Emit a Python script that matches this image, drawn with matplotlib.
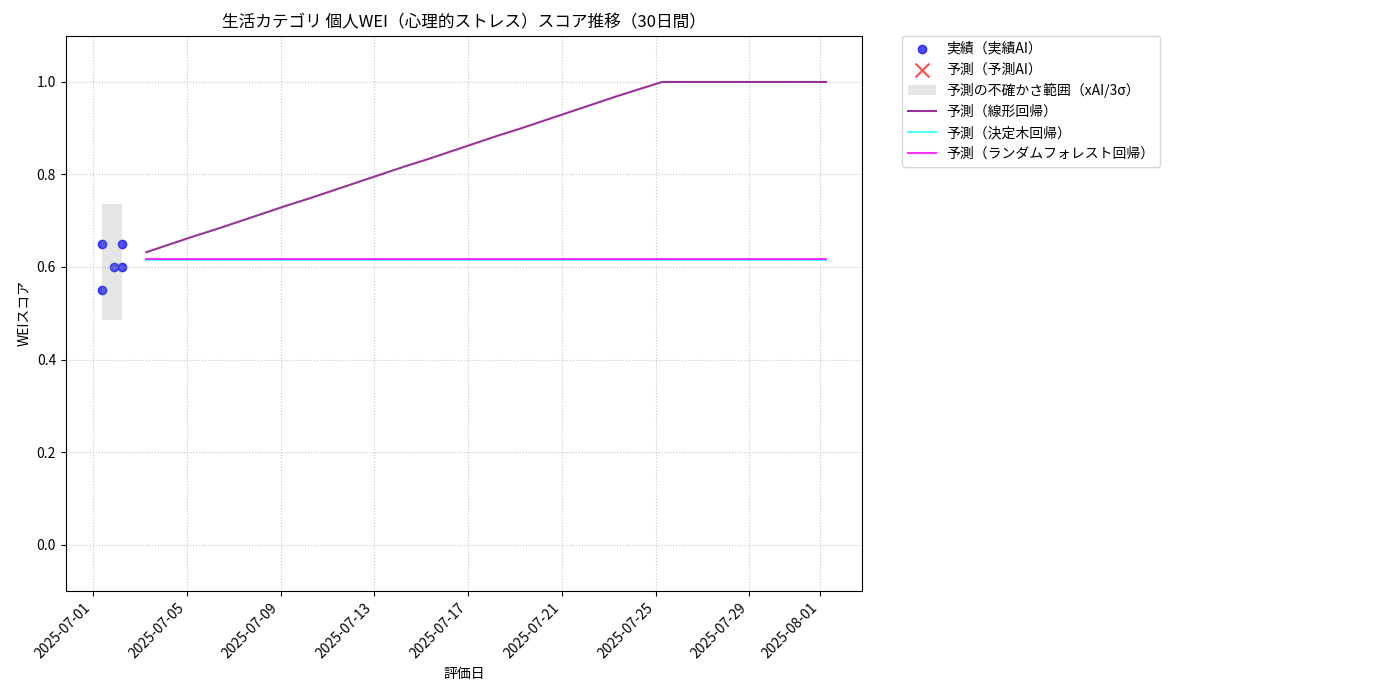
import numpy as np
import pandas as pd

import matplotlib
matplotlib.use("Agg")
import matplotlib.pyplot as plt

plt.rcParams["font.family"] = ["Noto Sans CJK JP", "DejaVu Sans"]

# ------------------------------------------------------------------ #
#  Data
# ------------------------------------------------------------------ #

actual_dates = pd.to_datetime([
    "2025-07-01 09:15", "2025-07-01 09:15", "2025-07-01 21:30",
    "2025-07-02 05:40", "2025-07-02 05:40",
])
actual_scores = [0.55, 0.65, 0.60, 0.65, 0.60]

pred_start = "2025-07-03 06:40"
pred_days = 30

linear_pred = [
    0.632, 0.649, 0.666, 0.682, 0.699, 0.716, 0.733, 0.749, 0.766, 0.783,
    0.800, 0.817, 0.833, 0.850, 0.867, 0.884, 0.900, 0.917, 0.934, 0.951,
    0.968, 0.984, 1.000, 1.000, 1.000, 1.000, 1.000, 1.000, 1.000, 1.000,
]
tree_pred = [0.615] * pred_days
forest_pred = [0.618] * pred_days

title = "生活カテゴリ 個人WEI（心理的ストレス）スコア推移（30日間）"


# ------------------------------------------------------------------ #
#  Plot
# ------------------------------------------------------------------ #

pred_dates = pd.date_range(pred_start, periods=pred_days, freq="D")

mean = np.mean(actual_scores)
sigma = np.std(actual_scores, ddof=1)

fig, ax = plt.subplots(figsize=(14, 7), dpi=100)

h_act = ax.scatter(actual_dates, actual_scores, color="blue", alpha=0.7,
                   label="実績（実績AI）")
h_pred = ax.scatter([], [], color="red", marker="x", s=100, alpha=0.7,
                    label="予測（予測AI）")
h_band = ax.fill_between([actual_dates[0], actual_dates[-1]],
                         mean - 3 * sigma, mean + 3 * sigma,
                         color="gray", alpha=0.2, linewidth=0,
                         label="予測の不確かさ範囲（xAI/3σ）")
(h_lin,) = ax.plot(pred_dates, linear_pred, color="purple", alpha=0.8,
                   label="予測（線形回帰）")
(h_tree,) = ax.plot(pred_dates, tree_pred, color="cyan", alpha=0.7,
                    label="予測（決定木回帰）")
(h_rf,) = ax.plot(pred_dates, forest_pred, color="magenta", alpha=0.8,
                  label="予測（ランダムフォレスト回帰）")

ax.set_ylim(-0.1, 1.1)
ax.set_title(title, fontsize=12)
ax.set_xlabel("評価日")
ax.set_ylabel("WEIスコア")
ax.grid(True, linestyle=":", alpha=0.7)
plt.setp(ax.get_xticklabels(), rotation=45, ha="right")

ax.legend(handles=[h_act, h_pred, h_band, h_lin, h_tree, h_rf],
          bbox_to_anchor=(1.05, 1), loc="upper left", borderaxespad=0.)

fig.subplots_adjust(left=0.047, right=0.616, top=0.949, bottom=0.156)
fig.savefig("out.png", dpi=100)
plt.close(fig)
